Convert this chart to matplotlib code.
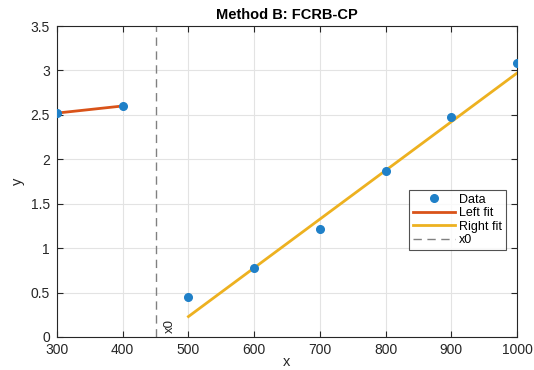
import matplotlib
matplotlib.use("Agg")
import matplotlib.pyplot as plt

x_data = [300, 400, 500, 600, 700, 800, 900, 1000]
y_data = [2.52, 2.60, 0.45, 0.78, 1.22, 1.87, 2.48, 3.08]
left_x = [300, 400]
left_y = [2.52, 2.60]
right_x = [500, 1000]
right_y = [0.23, 2.97]
x0 = 450

plt.rcParams['font.family'] = ['Liberation Sans', 'DejaVu Sans']
fig = plt.figure(figsize=(5.34, 3.70), dpi=100)
ax = fig.add_axes([57/534, 1-337/370, (517-57)/534, (337-26)/370])

ax.plot(x_data, y_data, 'o', color='#1f80c8', markersize=5.5, label='Data', zorder=5)
ax.plot(left_x, left_y, '-', color='#D95319', lw=2, label='Left fit', zorder=4)
ax.plot(right_x, right_y, '-', color='#EDB120', lw=2, label='Right fit', zorder=4)
ax.axvline(x0, color='#808080', ls=(0, (6, 4)), lw=1, label='x0')
ax.text(x0 + 12, 0.05, 'x0', rotation=90, fontsize=9.5, color='#262626', ha='left', va='bottom')

ax.set_xlim(300, 1000)
ax.set_ylim(0, 3.5)
ax.set_xticks([300, 400, 500, 600, 700, 800, 900, 1000])
ax.set_yticks([0, 0.5, 1, 1.5, 2, 2.5, 3, 3.5])
ax.set_yticklabels(['0', '0.5', '1', '1.5', '2', '2.5', '3', '3.5'])
ax.grid(True, color='#e3e3e3', lw=0.8)
ax.set_axisbelow(True)
ax.tick_params(direction='in', top=True, right=True, labelsize=10, colors='#262626', length=4)
ax.tick_params(axis='y', pad=5)
ax.tick_params(axis='x', pad=4)
for s in ax.spines.values():
    s.set_color('#262626')
    s.set_linewidth(0.8)
ax.set_xlabel('x', fontsize=10.5, color='#262626', labelpad=-1)
ax.set_ylabel('y', fontsize=10.5, color='#262626')
ax.set_title('Method B: FCRB-CP', fontsize=10.5, fontweight='bold', color='black', pad=5)

leg = ax.legend(loc='center right', bbox_to_anchor=(1.0, 0.376), fontsize=9, frameon=True,
                fancybox=False, edgecolor='#262626', handlelength=3.4, borderpad=0.3,
                labelspacing=0.12, handletextpad=0.3, borderaxespad=0.9)
leg.get_frame().set_linewidth(0.8)

fig.savefig('out.png', dpi=100)
